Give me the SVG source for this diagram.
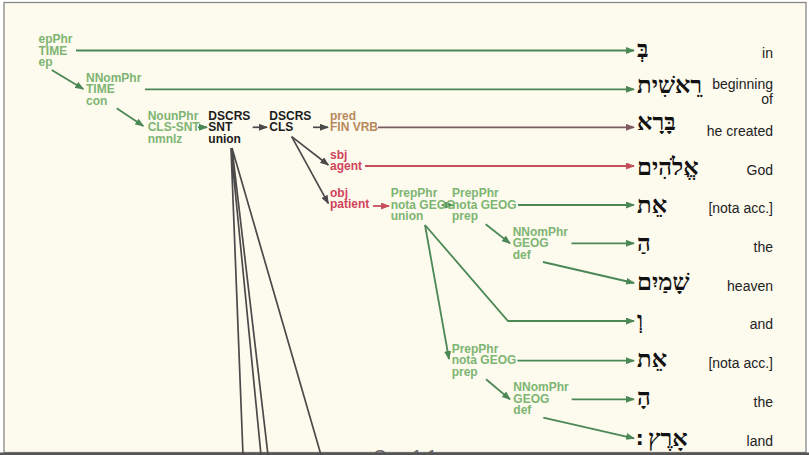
<svg xmlns="http://www.w3.org/2000/svg" width="809" height="455" viewBox="0 0 809 455">
<style>
.lbl{font-family:"Liberation Sans",Arial,sans-serif;font-weight:bold;font-size:12px}
.g{fill:#7db572}.k{fill:#1c1c1c}.br{fill:#b8895a}.rd{fill:#d0435a}
.heb{font-family:"Liberation Serif","DejaVu Sans",serif;font-weight:bold;font-size:24px;fill:#111}
.sp{font-family:"DejaVu Sans",sans-serif;font-weight:bold;font-size:20px;fill:#111}
.gl{font-family:"Liberation Sans",Arial,sans-serif;font-size:14px;fill:#222;text-anchor:end}
.cg{stroke:#4b8856;stroke-width:1.8;fill:none}
.ck{stroke:#4a4a4a;stroke-width:1.7;fill:none}
.cb{stroke:#7d5b60;stroke-width:1.8;fill:none}
.cr{stroke:#c44e5a;stroke-width:1.8;fill:none}
</style>
<defs>
<marker id="ag" markerUnits="userSpaceOnUse" markerWidth="9" markerHeight="7" refX="8" refY="3.5" orient="auto"><path d="M0,0 L9,3.5 L0,7 z" fill="#4b8856"/></marker>
<marker id="ak" markerUnits="userSpaceOnUse" markerWidth="9" markerHeight="7" refX="8" refY="3.5" orient="auto"><path d="M0,0 L9,3.5 L0,7 z" fill="#4a4a4a"/></marker>
<marker id="ab" markerUnits="userSpaceOnUse" markerWidth="9" markerHeight="7" refX="8" refY="3.5" orient="auto"><path d="M0,0 L9,3.5 L0,7 z" fill="#7d5b60"/></marker>
<marker id="ar" markerUnits="userSpaceOnUse" markerWidth="9" markerHeight="7" refX="8" refY="3.5" orient="auto"><path d="M0,0 L9,3.5 L0,7 z" fill="#c44e5a"/></marker>
</defs>
<rect x="0" y="0" width="809" height="455" fill="#ffffff"/>
<rect x="4" y="2.5" width="802" height="450" fill="#fdfaee" stroke="#888" stroke-width="1.3"/>
<text x="373" y="463" font-family="Liberation Sans,Arial,sans-serif" font-size="18" fill="#666">Gen 1:1</text>
<line x1="0" y1="453.7" x2="809" y2="453.7" stroke="#555" stroke-width="2.6"/>

<g id="connectors">
<path class="cg" marker-end="url(#ag)" d="M76,50.5 H634"/>
<path class="cg" marker-end="url(#ag)" d="M51.7,70 L83.3,89"/>
<path class="cg" marker-end="url(#ag)" d="M145,89.3 H634"/>
<path class="cg" marker-end="url(#ag)" d="M116.7,108.3 L143.3,126"/>
<path class="cg" marker-end="url(#ag)" d="M198,127.3 H207"/>
<path class="ck" marker-end="url(#ak)" d="M252.7,127.3 H267"/>
<path class="ck" marker-end="url(#ak)" d="M313,127.3 H328"/>
<path class="cb" marker-end="url(#ab)" d="M378,127.3 H634"/>
<path class="ck" marker-end="url(#ak)" d="M291.7,136.7 L328.3,165"/>
<path class="ck" marker-end="url(#ak)" d="M291.7,136.7 L328.3,203.3"/>
<path class="cr" marker-end="url(#ar)" d="M365,166 H634"/>
<path class="cr" marker-end="url(#ar)" d="M373,206 H389"/>
<path class="ck" d="M231,148 L243,455 M231,148 L261,455 M232,148 L268,455 M232,148 L321,455"/>
<path class="cg" marker-end="url(#ag)" d="M441.7,205 H453"/>
<path class="cg" marker-end="url(#ag)" d="M518,205 H634"/>
<path class="cg" marker-end="url(#ag)" d="M485.7,224.3 L510,243.3"/>
<path class="cg" marker-end="url(#ag)" d="M571.5,243.3 H634"/>
<path class="cg" marker-end="url(#ag)" d="M543,262 L634,283"/>
<path class="cg" marker-end="url(#ag)" d="M425,225 L508,321 H634"/>
<path class="cg" marker-end="url(#ag)" d="M425,225 L449,359"/>
<path class="cg" marker-end="url(#ag)" d="M517.5,360.7 H634"/>
<path class="cg" marker-end="url(#ag)" d="M486,379.3 L510,399.3"/>
<path class="cg" marker-end="url(#ag)" d="M571.7,399.3 H634"/>
<path class="cg" marker-end="url(#ag)" d="M543.3,417.7 L634,438.3"/>
</g>

<g id="n-epPhr"><text class="lbl g"><tspan x="38.5" y="43">epPhr</tspan><tspan x="38.5" y="54.5">TIME</tspan><tspan x="38.5" y="66">ep</tspan></text></g>
<g id="n-NNomPhr-con"><text class="lbl g"><tspan x="86" y="81.5">NNomPhr</tspan><tspan x="86" y="93">TIME</tspan><tspan x="86" y="104.5">con</tspan></text></g>
<g id="n-NounPhr"><text class="lbl g"><tspan x="147.7" y="119.5">NounPhr</tspan><tspan x="147.7" y="131">CLS-SNT</tspan><tspan x="147.7" y="142.5">nmnlz</tspan></text></g>
<g id="n-DSCRS-SNT"><text class="lbl k"><tspan x="208.3" y="119.5">DSCRS</tspan><tspan x="208.3" y="131">SNT</tspan><tspan x="208.3" y="142.5">union</tspan></text></g>
<g id="n-DSCRS-CLS"><text class="lbl k"><tspan x="269.3" y="119.5">DSCRS</tspan><tspan x="269.3" y="131">CLS</tspan></text></g>
<g id="n-pred"><text class="lbl br"><tspan x="330" y="119.5">pred</tspan><tspan x="330" y="131">FIN VRB</tspan></text></g>
<g id="n-sbj"><text class="lbl rd"><tspan x="330" y="158.5">sbj</tspan><tspan x="330" y="170">agent</tspan></text></g>
<g id="n-obj"><text class="lbl rd"><tspan x="330" y="196.5">obj</tspan><tspan x="330" y="208">patient</tspan></text></g>
<g id="n-PrepPhr-union"><text class="lbl g"><tspan x="390.7" y="197">PrepPhr</tspan><tspan x="390.7" y="208.5">nota GEOG</tspan><tspan x="390.7" y="220">union</tspan></text></g>
<g id="n-PrepPhr-prep1"><text class="lbl g"><tspan x="452" y="197">PrepPhr</tspan><tspan x="452" y="208.5">nota GEOG</tspan><tspan x="452" y="220">prep</tspan></text></g>
<g id="n-NNomPhr-def1"><text class="lbl g"><tspan x="512.7" y="235.5">NNomPhr</tspan><tspan x="512.7" y="247">GEOG</tspan><tspan x="512.7" y="258.5">def</tspan></text></g>
<g id="n-PrepPhr-prep2"><text class="lbl g"><tspan x="451.7" y="352.5">PrepPhr</tspan><tspan x="451.7" y="364">nota GEOG</tspan><tspan x="451.7" y="375.5">prep</tspan></text></g>
<g id="n-NNomPhr-def2"><text class="lbl g"><tspan x="513.3" y="391">NNomPhr</tspan><tspan x="513.3" y="402.5">GEOG</tspan><tspan x="513.3" y="414">def</tspan></text></g>

<g id="w1"><text class="heb" x="637" y="57">בְּ</text><text class="gl" x="773" y="57.5">in</text></g>
<g id="w2"><text class="heb" x="637" y="93">רֵאשִׁית</text><text class="gl" x="773" y="88.5">beginning</text><text class="gl" x="773" y="103.5">of</text></g>
<g id="w3"><text class="heb" x="637" y="130">בָּרָא</text><text class="gl" x="773" y="135.5">he created</text></g>
<g id="w4"><text class="heb" x="637" y="175">אֱלֹהִים</text><text class="gl" x="773" y="174.5">God</text></g>
<g id="w5"><text class="heb" x="637" y="213">אֵת</text><text class="gl" x="773" y="213">[nota acc.]</text></g>
<g id="w6"><text class="heb" x="637" y="251">הַ</text><text class="gl" x="773" y="251.5">the</text></g>
<g id="w7"><text class="heb" x="637" y="290">שָׁמַיִם</text><text class="gl" x="773" y="290.5">heaven</text></g>
<g id="w8"><text class="heb" x="637" y="328">וְ</text><text class="gl" x="773" y="329">and</text></g>
<g id="w9"><text class="heb" x="637" y="367">אֵת</text><text class="gl" x="773" y="368">[nota acc.]</text></g>
<g id="w10"><text class="heb" x="637" y="405">הָ</text><text class="gl" x="773" y="406.5">the</text></g>
<g id="w11"><text class="sp" x="636" y="445">׃</text><text class="heb" x="648" y="446">אָרֶץ</text><text class="gl" x="773" y="446">land</text></g>
</svg>
